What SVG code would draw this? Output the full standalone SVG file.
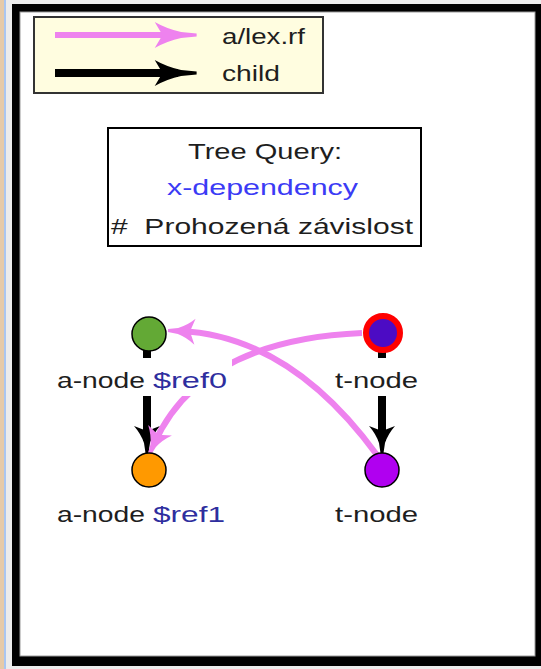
<svg xmlns="http://www.w3.org/2000/svg" width="541" height="669" viewBox="0 0 541 669">
  <defs>
    <style>
      .t { font-family: "Liberation Sans", Arial, sans-serif; font-size: 22px; fill: #1e1e1e; }
      .ref { fill: #2e2e9e; }
      .blue { fill: #3b3bf5; }
      .lbg { fill: #ffffff; }
      .rf { fill: none; stroke: #ee82ee; stroke-width: 6; }
      .child { fill: none; stroke: #000; stroke-width: 8; }
      .node { stroke: #000; stroke-width: 1.5; }
    </style>
    <!-- dart-shaped arrow heads; the line stops 12px short of the tip -->
    <path id="dart" d="M0,-1.5 L-10,-3 Q-19,-6 -27,-13 L-22,0 L-27,13 Q-19,6 -10,3 L0,1.5 Z"/>
    <marker id="headPink" markerUnits="userSpaceOnUse" viewBox="-28 -14 29 28" refX="-12" refY="0" markerWidth="29" markerHeight="28" orient="auto">
      <use href="#dart" fill="#ee82ee"/>
    </marker>
    <marker id="headBlack" markerUnits="userSpaceOnUse" viewBox="-28 -14 29 28" refX="-12" refY="0" markerWidth="29" markerHeight="28" orient="auto">
      <use href="#dart" fill="#000"/>
    </marker>
    <marker id="legPink" markerUnits="userSpaceOnUse" viewBox="-28 -14 29 28" refX="-12" refY="0" markerWidth="45" markerHeight="28" orient="auto" preserveAspectRatio="none">
      <use href="#dart" fill="#ee82ee"/>
    </marker>
    <marker id="legBlack" markerUnits="userSpaceOnUse" viewBox="-28 -14 29 28" refX="-12" refY="0" markerWidth="45" markerHeight="28" orient="auto" preserveAspectRatio="none">
      <use href="#dart" fill="#000"/>
    </marker>
  </defs>

  <!-- window chrome and canvas frame -->
  <rect x="0" y="0" width="541" height="669" fill="#ececec"/>
  <rect x="0" y="0" width="4" height="669" fill="#e6caa8"/>
  <rect x="4" y="0" width="2" height="669" fill="#aac6f0"/>
  <rect x="12" y="4" width="540" height="662" fill="#000"/>
  <rect x="20" y="12" width="515" height="644" fill="#fff" stroke="#9a9a9a" stroke-width="1"/>

  <!-- legend -->
  <g id="legend">
    <rect x="34" y="17" width="289" height="76" fill="#fffde0" stroke="#333" stroke-width="2"/>
    <line x1="55" y1="35" x2="178" y2="35" class="rf" marker-end="url(#legPink)"/>
    <text class="t" x="222" y="44" textLength="83" lengthAdjust="spacingAndGlyphs">a/lex.rf</text>
    <line x1="55" y1="73" x2="178" y2="73" class="child" stroke-width="7" marker-end="url(#legBlack)"/>
    <text class="t" x="222" y="81" textLength="58" lengthAdjust="spacingAndGlyphs">child</text>
  </g>

  <!-- query title box -->
  <g id="query">
    <rect x="108" y="128" width="313" height="118" fill="#fff" stroke="#000" stroke-width="2"/>
    <text class="t" x="188" y="159" textLength="154" lengthAdjust="spacingAndGlyphs">Tree Query:</text>
    <text class="t blue" x="167" y="195" textLength="191" lengthAdjust="spacingAndGlyphs">x-dependency</text>
    <text class="t" x="111" y="234" textLength="302" lengthAdjust="spacingAndGlyphs">#&#160; Prohozená závislost</text>
  </g>

  <!-- connectors -->
  <g id="edges">
    <line x1="147" y1="350" x2="147" y2="441" class="child" marker-end="url(#headBlack)"/>
    <line x1="382" y1="352" x2="382" y2="441" class="child" marker-end="url(#headBlack)"/>
    <path d="M362,333 Q200,340 154,444" class="rf" marker-end="url(#headPink)"/>
    <path d="M377,455 Q290,336 180,331" class="rf" marker-end="url(#headPink)"/>
  </g>

  <!-- nodes -->
  <g id="a-ref0">
    <rect class="lbg" x="55" y="358" width="177" height="38"/>
    <text class="t" x="57" y="388" textLength="88" lengthAdjust="spacingAndGlyphs">a-node</text>
    <text class="t ref" x="153" y="388" textLength="74" lengthAdjust="spacingAndGlyphs">$ref0</text>
    <circle class="node" cx="149" cy="334" r="17" fill="#63a935"/>
  </g>
  <g id="a-ref1">
    <text class="t" x="57" y="522" textLength="88" lengthAdjust="spacingAndGlyphs">a-node</text>
    <text class="t ref" x="153" y="522" textLength="72" lengthAdjust="spacingAndGlyphs">$ref1</text>
    <circle class="node" cx="149" cy="470" r="17" fill="#ff9900"/>
  </g>
  <g id="t-node-top">
    <rect class="lbg" x="336" y="358" width="84" height="38"/>
    <text class="t" x="335" y="388" textLength="83" lengthAdjust="spacingAndGlyphs">t-node</text>
    <circle cx="383" cy="333" r="17" fill="#4c0bc4" stroke="#ff0000" stroke-width="6"/>
  </g>
  <g id="t-node-bottom">
    <text class="t" x="335" y="522" textLength="83" lengthAdjust="spacingAndGlyphs">t-node</text>
    <circle class="node" cx="382" cy="470" r="17" fill="#b000f0"/>
  </g>
</svg>
